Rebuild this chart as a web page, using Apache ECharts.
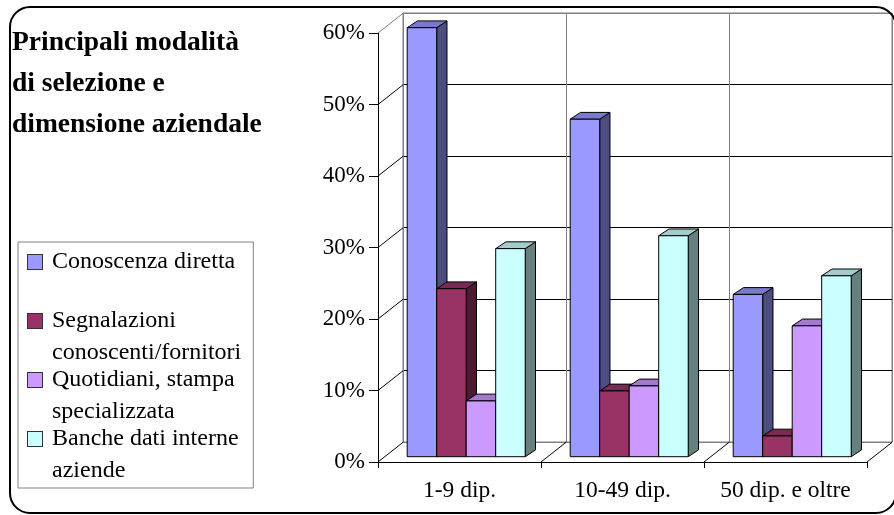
<!DOCTYPE html>
<html>
<head>
<meta charset="utf-8">
<script src="https://cdn.jsdelivr.net/npm/echarts@6/dist/echarts.min.js"></script>
<style>
  html, body { margin: 0; padding: 0; background: #fff; }
  #main { width: 894px; height: 515px; }
</style>
</head>
<body>
<div id="main"></div>
<script>
// Categories (company size) and the share of each recruiting channel
const categories = ['1-9 dip.', '10-49 dip.', '50 dip. e oltre'];
const seriesNames = [
  'Conoscenza diretta',
  'Segnalazioni conoscenti/fornitori',
  'Quotidiani, stampa specializzata',
  'Banche dati interne aziende'
];
const legendLines = [
  ['Conoscenza diretta', ''],
  ['Segnalazioni', 'conoscenti/fornitori'],
  ['Quotidiani, stampa', 'specializzata'],
  ['Banche dati interne', 'aziende']
];
const conoscenzaDiretta = [0.600, 0.472, 0.227];
const segnalazioni      = [0.235, 0.092, 0.029];
const quotidiani        = [0.078, 0.099, 0.183];
const bancheDati        = [0.291, 0.309, 0.253];
const yTicks = [0, 0.1, 0.2, 0.3, 0.4, 0.5, 0.6];

// Face colours of the 3D columns
const faceColors = ['#9999FF', '#993366', '#CC99FF', '#CCFFFF'];
const topColors  = ['#7A7ACC', '#7A2952', '#A37ACC', '#A3CCCC'];
const sideColors = ['#4D4D80', '#4D1A33', '#664D80', '#668080'];

const FONT = '"Liberation Serif", "Times New Roman", serif';

// Oblique projection used for the pseudo-3D walls and columns
const WALL_DX = 25.4, WALL_DY = -20;   // depth of floor and side wall
const BAR_DX = 6.7, BAR_DY = -5.3;     // columns sit a little behind the front edge
const BOX_DX = 10.3, BOX_DY = -6.8;    // column thickness
const GROUP_RATIO = 0.724;             // share of a category band used by its columns

const seriesValues = [conoscenzaDiretta, segnalazioni, quotidiani, bancheDati];

function makeColumn(s) {
  return function (params, api) {
    const cat = api.value(0);
    const v = api.value(1);
    const base = api.coord([cat, 0]);
    const top = api.coord([cat, v]);
    const band = api.size([1, 0])[0];
    const groupW = band * GROUP_RATIO;
    const bw = groupW / 4;
    const x0 = base[0] - groupW / 2 + s * bw + BAR_DX;
    const x1 = x0 + bw;
    const yb = base[1] + BAR_DY;
    const yt = top[1] + BAR_DY;
    const stroke = { stroke: '#000', lineWidth: 1, lineJoin: 'round' };
    return {
      type: 'group',
      children: [
        { type: 'polygon', shape: { points: [[x1, yt], [x1 + BOX_DX, yt + BOX_DY], [x1 + BOX_DX, yb + BOX_DY], [x1, yb]] },
          style: Object.assign({ fill: sideColors[s] }, stroke) },
        { type: 'polygon', shape: { points: [[x0, yt], [x1, yt], [x1 + BOX_DX, yt + BOX_DY], [x0 + BOX_DX, yt + BOX_DY]] },
          style: Object.assign({ fill: topColors[s] }, stroke) },
        { type: 'rect', shape: { x: x0, y: yt, width: bw, height: yb - yt },
          style: Object.assign({ fill: faceColors[s] }, stroke) }
      ]
    };
  };
}

// Side wall: one receding line per value tick
function renderSideWall(params, api) {
  const p = api.coord([0, api.value(1)]);
  const band = api.size([1, 0])[0];
  const x = p[0] - band / 2;
  const isTop = params.dataIndex === yTicks.length - 1;
  return {
    type: 'line',
    shape: { x1: x, y1: p[1], x2: x + WALL_DX, y2: p[1] + WALL_DY },
    style: { stroke: isTop ? '#808080' : '#000', lineWidth: 1 }
  };
}

// Floor: receding divider at the right edge of each category
function renderFloor(params, api) {
  const p = api.coord([api.value(0), 0]);
  const band = api.size([1, 0])[0];
  const x = p[0] + band / 2;
  return {
    type: 'line',
    shape: { x1: x, y1: p[1], x2: x + WALL_DX, y2: p[1] + WALL_DY },
    style: { stroke: '#000', lineWidth: 1 }
  };
}

const rich = {
  g:  { width: 10, lineHeight: 32 },
  g2: { width: 24, lineHeight: 32 },
  t:  { fontFamily: FONT, fontSize: 24, color: '#000', lineHeight: 32 }
};
faceColors.forEach((c, i) => {
  rich['k' + i] = { width: 14, height: 14, backgroundColor: c, borderColor: '#333', borderWidth: 1, lineHeight: 32 };
});

const chart = echarts.init(document.getElementById('main'), null, { renderer: 'canvas' });

const columnSeries = seriesValues.map((vals, s) => ({
  type: 'custom',
  name: seriesNames[s],
  xAxisIndex: 0,
  yAxisIndex: 0,
  z: 5,
  itemStyle: { color: faceColors[s] },
  data: vals.map((v, i) => [i, v]),
  renderItem: makeColumn(s)
}));

chart.setOption({
  animation: false,
  backgroundColor: '#fff',
  title: {
    text: 'Principali modalità\ndi selezione e\ndimensione aziendale',
    left: 12,
    top: 22,
    padding: 0,
    textStyle: { fontFamily: FONT, fontWeight: 'bold', fontSize: 27.5, lineHeight: 41, color: '#000' }
  },
  legend: {
    orient: 'vertical',
    left: 18,
    top: 242,
    padding: [4, 12, 1, 5],
    itemGap: -5,
    itemWidth: 0,
    itemHeight: 0,
    icon: 'rect',
    selectedMode: false,
    borderColor: '#808080',
    borderWidth: 1,
    data: seriesNames,
    formatter: function (name) {
      const i = seriesNames.indexOf(name);
      const lines = legendLines[i];
      return '{k' + i + '|}{g|}{t|' + lines[0] + '}\n{g2|}{t|' + (lines[1] || ' ') + '}';
    },
    textStyle: { fontFamily: FONT, fontSize: 24, color: '#000', lineHeight: 32, rich: rich }
  },
  grid: [
    // front plane of the plot box
    { left: 378, top: 33, width: 489, height: 429, outerBoundsMode: 'none', containLabel: false },
    // back wall
    { left: 403, top: 13, width: 489, height: 429, outerBoundsMode: 'none', containLabel: false,
      show: true, borderColor: '#808080', borderWidth: 1, backgroundColor: 'transparent' }
  ],
  xAxis: [
    {
      gridIndex: 0,
      type: 'category',
      data: categories,
      boundaryGap: true,
      axisLine: { show: true, lineStyle: { color: '#000', width: 1 } },
      axisTick: { show: true, length: 6, alignWithLabel: false, lineStyle: { color: '#000' } },
      axisLabel: { show: true, margin: 17, fontFamily: FONT, fontSize: 23.5, color: '#000', interval: 0, hideOverlap: false },
      splitLine: { show: false }
    },
    {
      gridIndex: 1,
      type: 'category',
      data: categories,
      boundaryGap: true,
      axisLine: { show: false },
      axisTick: { show: false },
      axisLabel: { show: false },
      splitLine: { show: true, lineStyle: { color: '#808080', width: 1 } }
    }
  ],
  yAxis: [
    {
      gridIndex: 0,
      type: 'value',
      min: 0,
      max: 0.6,
      interval: 0.1,
      axisLine: { show: true, lineStyle: { color: '#000', width: 1 } },
      axisTick: { show: true, length: 9, lineStyle: { color: '#000' } },
      axisLabel: {
        show: true, margin: 13, fontFamily: FONT, fontSize: 23, color: '#000',
        formatter: v => Math.round(v * 100) + '%'
      },
      splitLine: { show: false }
    },
    {
      gridIndex: 1,
      type: 'value',
      min: 0,
      max: 0.6,
      interval: 0.1,
      axisLine: { show: false },
      axisTick: { show: false },
      axisLabel: { show: false },
      splitLine: {
        show: true,
        lineStyle: { color: ['#808080', '#000', '#000', '#000', '#000', '#000', '#808080'], width: 1 }
      }
    }
  ],
  series: [
    {
      type: 'custom',
      xAxisIndex: 0,
      yAxisIndex: 0,
      z: 2,
      silent: true,
      data: yTicks.map(v => [0, v]),
      renderItem: renderSideWall
    },
    {
      type: 'custom',
      xAxisIndex: 0,
      yAxisIndex: 0,
      z: 2,
      silent: true,
      data: categories.map((c, i) => [i, 0]),
      renderItem: renderFloor
    }
  ].concat(columnSeries),
  graphic: [
    {
      type: 'rect',
      z: 100,
      silent: true,
      shape: { x: 10, y: 7, width: 886, height: 506, r: 20 },
      style: { fill: 'none', stroke: '#000', lineWidth: 2 }
    }
  ]
});
</script>
</body>
</html>
